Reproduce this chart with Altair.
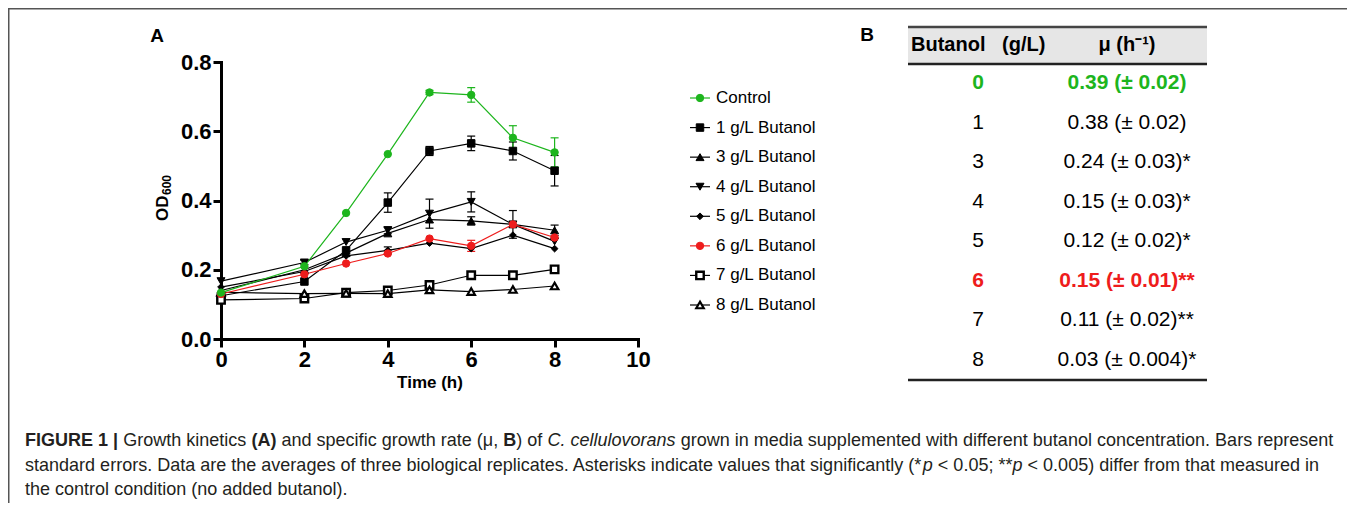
import altair as alt
import pandas as pd

# ---------------- data ----------------
times = [0, 2, 3, 4, 5, 6, 7, 8]
series_names = ["Control", "1 g/L Butanol", "3 g/L Butanol", "4 g/L Butanol",
                "5 g/L Butanol", "6 g/L Butanol", "7 g/L Butanol", "8 g/L Butanol"]

od_control = [0.134, 0.210, 0.364, 0.534, 0.712, 0.705, 0.581, 0.539]
od_1g = [0.125, 0.166, 0.256, 0.394, 0.543, 0.565, 0.543, 0.486]
od_3g = [0.140, 0.200, 0.248, 0.305, 0.345, 0.341, 0.331, 0.314]
od_4g = [0.167, 0.221, 0.280, 0.314, 0.362, 0.396, 0.331, 0.282]
od_5g = [0.150, 0.195, 0.240, 0.256, 0.277, 0.261, 0.300, 0.261]
od_6g = [0.130, 0.187, 0.218, 0.247, 0.290, 0.269, 0.331, 0.293]
od_7g = [0.113, 0.117, 0.134, 0.140, 0.156, 0.184, 0.184, 0.201]
od_8g = [0.135, 0.131, 0.132, 0.131, 0.142, 0.137, 0.143, 0.153]

se_control = [0, 0, 0, 0, 0.006, 0.021, 0.035, 0.042]
se_1g = [0, 0, 0, 0.028, 0.013, 0.021, 0.026, 0.044]
se_3g = [0, 0, 0, 0, 0, 0.012, 0, 0.015]
se_4g = [0, 0.006, 0, 0.010, 0.042, 0.029, 0.040, 0]
se_5g = [0, 0, 0, 0.010, 0, 0, 0, 0]
se_6g = [0, 0, 0, 0, 0, 0.016, 0, 0]
se_7g = [0, 0, 0, 0, 0, 0, 0, 0]
se_8g = [0, 0, 0, 0, 0, 0, 0, 0]

x_ticks = [0, 2, 4, 6, 8, 10]
y_ticks = [0.0, 0.2, 0.4, 0.6, 0.8]
x_title = "Time (h)"
y_title_main = "OD"
y_title_sub = "600"

table_header = ["Butanol\u00a0\u00a0 (g/L)", "\u03bc (h\u207b\u00b9)"]
table_butanol = ["0", "1", "3", "4", "5", "6", "7", "8"]
table_mu = ["0.39 (\u00b1 0.02)", "0.38 (\u00b1 0.02)", "0.24 (\u00b1 0.03)*", "0.15 (\u00b1 0.03)*",
            "0.12 (\u00b1 0.02)*", "0.15 (\u00b1 0.01)**", "0.11 (\u00b1 0.02)**", "0.03 (\u00b1 0.004)*"]

panel_labels = ["A", "B"]

caption_lines = [
    [("FIGURE 1 | ", "bold"), ("Growth kinetics ", "normal"), ("(A) ", "bold"),
     ("and specific growth rate (\u03bc, ", "normal"), ("B", "bold"), (") of ", "normal"),
     ("C. cellulovorans ", "italic"),
     ("grown in media supplemented with different butanol concentration. Bars represent", "normal")],
    [("standard errors. Data are the averages of three biological replicates. Asterisks indicate values that significantly (*", "normal"),
     ("p ", "italic"), ("< 0.05; **", "normal"), ("p ", "italic"),
     ("< 0.005) differ from that measured in", "normal")],
    [("the control condition (no added butanol).", "normal")],
]

# ---------------- styles / layout ----------------
FONT = "Liberation Sans"
GREEN = "#1db51d"
RED = "#ee1c1c"
W, H = 1339, 495
X0, X1 = 213, 630          # pixel range of time axis
Y_ZERO, Y_TOP = 331, 54    # pixel range of OD axis

series_colors = [GREEN, "black", "black", "black", "black", RED, "black", "black"]
series_fills = [GREEN, "black", "black", "black", "black", RED, "white", "white"]
series_shapes = ["circle", "square", "triangle-up", "triangle-down", "diamond", "circle", "square", "triangle-up"]
series_sizes = [55, 56, 64, 64, 45, 55, 56, 56]
series_strokes = [1, 1, 1, 1, 1, 1, 2.4, 2.2]
draw_order = ["1 g/L Butanol", "3 g/L Butanol", "4 g/L Butanol", "5 g/L Butanol",
              "7 g/L Butanol", "8 g/L Butanol", "6 g/L Butanol", "Control"]

ods = dict(zip(series_names, [od_control, od_1g, od_3g, od_4g, od_5g, od_6g, od_7g, od_8g]))
ses = dict(zip(series_names, [se_control, se_1g, se_3g, se_4g, se_5g, se_6g, se_7g, se_8g]))

rows = []
for name in draw_order:
    for t, v, e in zip(times, ods[name], ses[name]):
        rows.append({"series": name, "t": t, "v": v, "se": e, "lo": v - e, "hi": v + e})
df = pd.DataFrame(rows)
err_df = df[df["se"] > 0].copy()
caps_df = pd.concat([
    err_df[["series", "t"]].assign(v=err_df["lo"]),
    err_df[["series", "t"]].assign(v=err_df["hi"]),
])

color_enc = alt.Color("series:N", scale=alt.Scale(domain=series_names, range=series_colors), legend=None)
fill_enc = alt.Fill("series:N", scale=alt.Scale(domain=series_names, range=series_fills), legend=None)
shape_enc = alt.Shape("series:N", scale=alt.Scale(domain=series_names, range=series_shapes), legend=None)
size_enc = alt.Size("series:N", scale=alt.Scale(type="ordinal", domain=series_names, range=series_sizes), legend=None)
sw_enc = alt.StrokeWidth("series:N", scale=alt.Scale(type="ordinal", domain=series_names, range=series_strokes),
                         legend=None)

axis_common = dict(grid=False, domainWidth=3, domainColor="black", domainCap="square",
                   tickWidth=3, tickColor="black", tickSize=8,
                   labelFont=FONT, labelFontSize=22, labelFontWeight="bold", labelColor="black",
                   titleFont=FONT, titleFontWeight="bold", titleColor="black",
                   labelFlush=False, labelOverlap=False)
x_axis = alt.Axis(values=x_ticks, format="d", title=x_title, offset=-(H - Y_ZERO),
                  labelPadding=2, titleFontSize=17, titlePadding=4, **axis_common)
y_axis = alt.Axis(values=y_ticks, format=".1f", title="", offset=-X0,
                  labelPadding=2, **axis_common)
xscale = alt.Scale(domain=[0, 10], range=[X0, X1], nice=False, zero=False)
yscale = alt.Scale(domain=[0, 0.8], range=[Y_ZERO, Y_TOP], nice=False, zero=False)


def X(field):
    return alt.X(field, type="quantitative", scale=xscale, axis=x_axis)


def Y(field):
    return alt.Y(field, type="quantitative", scale=yscale, axis=y_axis)


err_rules = alt.Chart(err_df).mark_rule(strokeWidth=1.2).encode(
    x=X("t"), y=Y("lo"), y2="hi", color=color_enc)
err_caps = alt.Chart(caps_df).mark_tick(orient="horizontal", size=8, thickness=1.2, opacity=1).encode(
    x=X("t"), y=Y("v"), color=color_enc)
lines = alt.Chart(df).mark_line(strokeWidth=1.2).encode(
    x=X("t"), y=Y("v"), color=color_enc, detail="series:N")
points = alt.Chart(df).mark_point(opacity=1, fillOpacity=1).encode(
    x=X("t"), y=Y("v"), color=color_enc, fill=fill_enc, shape=shape_enc, size=size_enc, strokeWidth=sw_enc)
panel_a = alt.layer(err_rules, err_caps, lines, points)

one = pd.DataFrame({"k": [0]})
# y-axis title with a real subscript (rotated text)
y_title_layers = [
    alt.Chart(one).mark_text(angle=270, align="left", baseline="alphabetic", font=FONT, fontSize=17,
                             fontWeight="bold", color="black").encode(
        x=alt.value(160), y=alt.value(213), text=alt.value(y_title_main)),
    alt.Chart(one).mark_text(angle=270, align="left", baseline="alphabetic", font=FONT, fontSize=12,
                             fontWeight="bold", color="black").encode(
        x=alt.value(163), y=alt.value(187), text=alt.value(y_title_sub)),
]

# ---------------- legend ----------------
leg_df = pd.DataFrame({"series": series_names})
leg_y = alt.Y("series:N", scale=alt.Scale(type="point", domain=series_names, range=[90, 297], padding=0), axis=None)
leg_lines = alt.Chart(leg_df).mark_rule(strokeWidth=1.2).encode(
    x=alt.value(682), x2=alt.value(702), y=leg_y, color=color_enc)
leg_points = alt.Chart(leg_df).mark_point(opacity=1, fillOpacity=1).encode(
    x=alt.value(692), y=leg_y, color=color_enc, fill=fill_enc, shape=shape_enc, size=size_enc, strokeWidth=sw_enc)
leg_text = alt.Chart(leg_df).mark_text(align="left", baseline="middle", font=FONT, fontSize=17, color="black").encode(
    x=alt.value(708), y=leg_y, text="series:N")

# ---------------- table ----------------
tbl_df = pd.DataFrame({"b": table_butanol, "mu": table_mu})
highlight = {"0": GREEN, "6": RED}
tbl_colors = [highlight.get(b, "black") for b in table_butanol]
tbl_y = alt.Y("b:N", scale=alt.Scale(type="point", domain=table_butanol, range=[75, 352], padding=0), axis=None)
tbl_color = alt.Color("b:N", scale=alt.Scale(domain=table_butanol, range=tbl_colors), legend=None)
is_hl = "datum.b == '0' || datum.b == '6'"

tbl_layers = [
    alt.Chart(one).mark_rect(color="#e6e6e6").encode(
        x=alt.value(900), x2=alt.value(1199), y=alt.value(19), y2=alt.value(56)),
    alt.Chart(one).mark_rule(color="#444444", strokeWidth=2.5).encode(
        x=alt.value(900), x2=alt.value(1199), y=alt.value(19)),
    alt.Chart(one).mark_rule(color="#222222", strokeWidth=2.5).encode(
        x=alt.value(900), x2=alt.value(1199), y=alt.value(56)),
    alt.Chart(one).mark_rule(color="#222222", strokeWidth=2.5).encode(
        x=alt.value(900), x2=alt.value(1199), y=alt.value(372)),
    alt.Chart(one).mark_text(align="left", baseline="middle", font=FONT, fontSize=20, fontWeight="bold",
                             color="black").encode(x=alt.value(903), y=alt.value(37), text=alt.value(table_header[0])),
    alt.Chart(one).mark_text(align="center", baseline="middle", font=FONT, fontSize=20, fontWeight="bold",
                             color="black").encode(x=alt.value(1119), y=alt.value(37), text=alt.value(table_header[1])),
]
for field, xpos in [("b", 970), ("mu", 1119)]:
    for filt, weight in [(is_hl, "bold"), ("!(" + is_hl + ")", "normal")]:
        tbl_layers.append(
            alt.Chart(tbl_df).transform_filter(filt).mark_text(
                align="center", baseline="middle", font=FONT, fontSize=21, fontWeight=weight).encode(
                x=alt.value(xpos), y=tbl_y, text=f"{field}:N", color=tbl_color))

# ---------------- caption ----------------
REG_W = {" ": 278, "!": 278, "(": 333, ")": 333, "*": 389, ",": 278, "-": 333, ".": 278, "/": 278,
         ":": 278, ";": 278, "<": 584, "|": 260, "\u03bc": 576}
REG_W.update({d: 556 for d in "0123456789"})
REG_W.update(dict(zip("ABCDEFGHIJKLMNOPQRSTUVWXYZ",
                      [667, 667, 722, 722, 667, 611, 778, 722, 278, 500, 667, 556, 833, 722, 778, 667, 778,
                       722, 667, 611, 722, 667, 944, 667, 667, 611])))
REG_W.update(dict(zip("abcdefghijklmnopqrstuvwxyz",
                      [556, 556, 500, 556, 556, 278, 556, 556, 222, 222, 500, 222, 833, 556, 556, 556, 556,
                       333, 500, 278, 556, 500, 722, 500, 500, 500])))
BOLD_W = {" ": 278, "(": 333, ")": 333, "|": 280}
BOLD_W.update({d: 556 for d in "0123456789"})
BOLD_W.update(dict(zip("ABCDEFGHIJKLMNOPQRSTUVWXYZ",
                       [722, 722, 722, 722, 667, 611, 778, 722, 278, 556, 722, 611, 833, 722, 778, 667, 778,
                        722, 667, 611, 722, 667, 944, 667, 667, 611])))


def seg_units(text, style):
    tbl = BOLD_W if style == "bold" else REG_W
    return sum(tbl.get(ch, 556) for ch in text) / 1000.0


CAP_X = 17
CAP_YS = [433, 458, 482]
line1_units = sum(seg_units(s, st) for s, st in caption_lines[0])
cap_fs = (1313 - 4) / line1_units

cap_layers = []
for line, ypos in zip(caption_lines, CAP_YS):
    xpos = CAP_X
    for text, style in line:
        kw = dict(align="left", baseline="middle", font=FONT, fontSize=cap_fs, color="#231f20")
        if style == "bold":
            kw["fontWeight"] = "bold"
        elif style == "italic":
            kw["fontStyle"] = "italic"
        cap_layers.append(alt.Chart(one).mark_text(**kw).encode(
            x=alt.value(xpos), y=alt.value(ypos), text=alt.value(text)))
        xpos += seg_units(text, style) * cap_fs

# ---------------- frame and panel labels ----------------
frame = [
    alt.Chart(one).mark_rule(color="#555555", strokeWidth=1.5).encode(
        x=alt.value(0), x2=alt.value(W), y=alt.value(0.75)),
    alt.Chart(one).mark_rule(color="#555555", strokeWidth=1.5).encode(
        x=alt.value(0.75), y=alt.value(0), y2=alt.value(H)),
    alt.Chart(one).mark_text(align="center", baseline="middle", font=FONT, fontSize=19, fontWeight="bold",
                             color="black").encode(x=alt.value(149), y=alt.value(28), text=alt.value(panel_labels[0])),
    alt.Chart(one).mark_text(align="center", baseline="middle", font=FONT, fontSize=19, fontWeight="bold",
                             color="black").encode(x=alt.value(859), y=alt.value(27), text=alt.value(panel_labels[1])),
]

chart = alt.layer(
    *frame, panel_a, *y_title_layers, leg_lines, leg_points, leg_text, *tbl_layers, *cap_layers
).resolve_scale(
    x="independent", y="independent", color="independent", fill="independent",
    shape="independent", size="independent", strokeWidth="independent"
).properties(
    width=W, height=H, autosize=alt.AutoSizeParams(type="none"), padding=0
).configure_view(strokeWidth=0).configure(background="white")

chart.save("out.html", embed_options={"renderer": "svg", "actions": False})
